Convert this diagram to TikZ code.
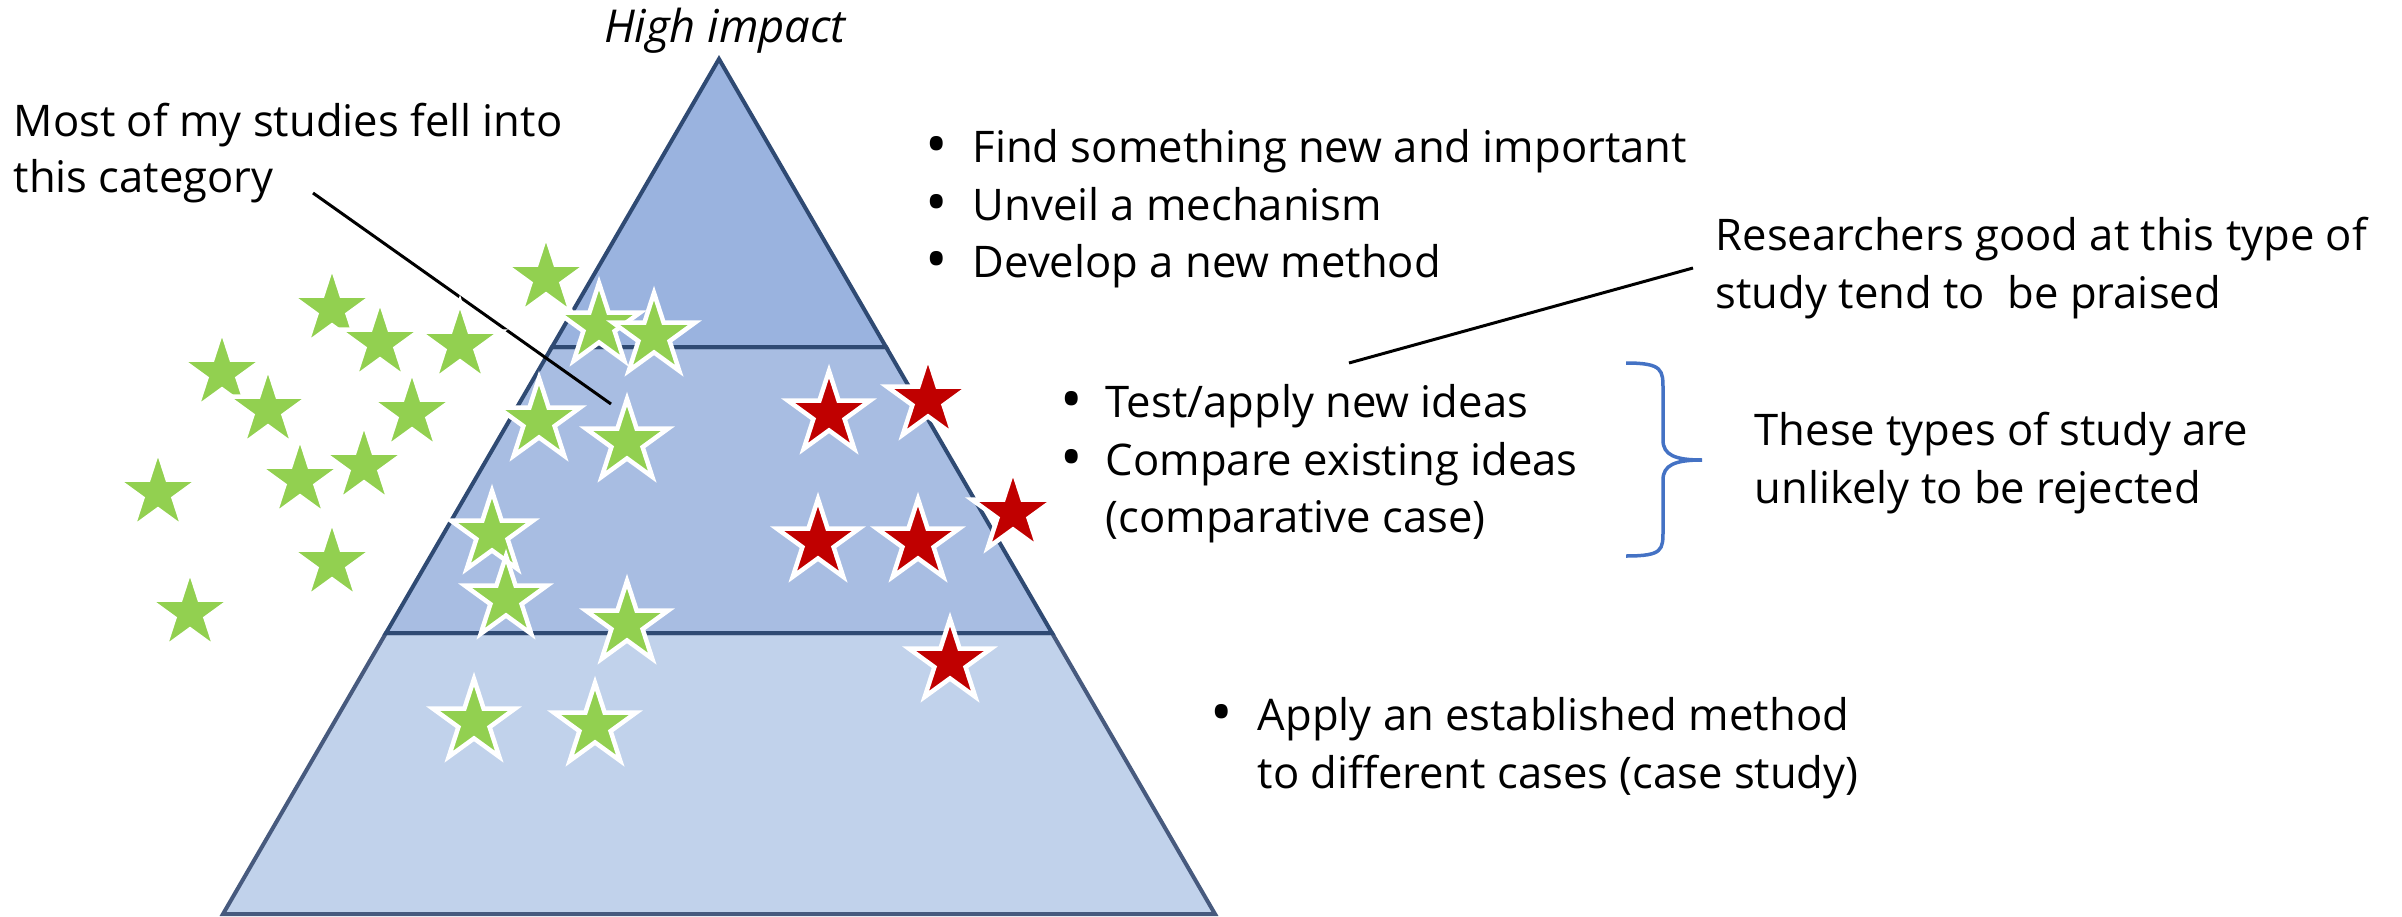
\documentclass[tikz,border=0pt]{standalone}
\usepackage{fontspec}
\setmainfont{Open Sans}
\usetikzlibrary{shapes.geometric}
\definecolor{topband}{HTML}{9AB3DF}
\definecolor{midband}{HTML}{A8BDE2}
\definecolor{lowband}{HTML}{C1D2EB}
\definecolor{bandline}{HTML}{2F4A73}
\definecolor{lowline}{HTML}{475A7E}
\definecolor{stargreen}{HTML}{92D050}
\definecolor{starred}{HTML}{C00000}
\definecolor{bracecol}{HTML}{4472C4}
\tikzset{
	txt/.style={inner sep=0pt, font=\fontsize{12.4}{16}\selectfont, anchor=base west},
	bul/.style={inner sep=0pt, font=\fontsize{17}{20}\selectfont, anchor=base, yshift=-0.3mm},
	gstar/.style={star, star points=5, star point ratio=2.618, minimum size=8.6mm, inner sep=0pt, draw=white, line width=0.45mm, fill=stargreen},
	rstar/.style={gstar, fill=starred},
	band/.style={draw=bandline, line width=0.4mm},
	lead/.style={black, line width=0.3mm}
}

\begin{document}
\begin{tikzpicture}[x=0.1mm, y=-0.1mm]
		%%%%% START %%%%%
		\useasboundingbox (0,0) rectangle (2402,917);
		
		% pyramid
		\coordinate (apex) at (719,59);
		\coordinate (tl) at (552,347);
		\coordinate (tr) at (886,347);
		\coordinate (ml) at (386,633);
		\coordinate (mr) at (1052,633);
		\coordinate (bl) at (223,914);
		\coordinate (br) at (1215,914);
		\draw[band, draw=lowline, fill=lowband] (ml) -- (mr) -- (br) -- (bl) -- cycle;
		\draw[band, fill=midband] (tl) -- (tr) -- (mr) -- (ml) -- cycle;
		\draw[band, fill=topband] (apex) -- (tr) -- (tl) -- cycle;
		
		\node[txt, anchor=base, font=\fontsize{12.9}{16}\selectfont\itshape] (high) at (725,42) {High impact};
		
		% leader lines
		\coordinate (catlead) at (313,193);
		\coordinate (catstar) at (611,404);
		\draw[lead] (catlead) -- (catstar);
		\coordinate (praiselead) at (1693,268);
		\coordinate (applytop) at (1349,363);
		\draw[lead] (applytop) -- (praiselead);
		
		% green stars outside
		\node[gstar] (g1) at (332,309) {};
		\node[gstar] (g2) at (380,343) {};
		\node[gstar] (g3) at (460,345) {};
		\node[gstar] (g4) at (222,373) {};
		\node[gstar] (g5) at (268,410) {};
		\node[gstar] (g6) at (412,413) {};
		\node[gstar] (g7) at (158,493) {};
		\node[gstar] (g8) at (300,480) {};
		\node[gstar] (g9) at (364,466) {};
		\node[gstar] (g10) at (332,563) {};
		\node[gstar] (g11) at (190,613) {};
		\node[gstar] (g12) at (546,278) {};
		
		% green stars inside
		\node[gstar] (g13) at (599,326) {};
		\node[gstar] (g14) at (654,336) {};
		\node[gstar] (g15) at (539,421) {};
		\node[gstar] (g16) at (627,442) {};
		\node[gstar] (g17) at (492,534) {};
		\node[gstar] (g18) at (506,599) {};
		\node[gstar] (g19) at (627,624) {};
		\node[gstar] (g20) at (474,722) {};
		\node[gstar] (g21) at (595,726) {};
		
		% red stars
		\node[rstar] (r1) at (829,414) {};
		\node[rstar] (r2) at (928,400) {};
		\node[rstar] (r3) at (818,542) {};
		\node[rstar] (r4) at (918,542) {};
		\node[rstar] (r5) at (1013,513) {};
		\node[rstar] (r6) at (950,662) {};
		
		% left label
		\node[txt] (most) at (13,136) {Most of my studies fell into};
		\node[txt] (cat) at (13,192) {this category};
		
		% top band
		\node[bul] (b1) at (937,162) {\textbullet};
		\node[txt] (find) at (972,162) {Find something new and important};
		\node[bul] (b2) at (937,220) {\textbullet};
		\node[txt] (unveil) at (972,220) {Unveil a mechanism};
		\node[bul] (b3) at (937,277) {\textbullet};
		\node[txt] (develop) at (972,277) {Develop a new method};
		
		\node[txt] (res) at (1715,250) {Researchers good at this type of};
		\node[txt] (praise) at (1715,308) {study tend to\ \ be praised};
		
		% middle band
		\node[bul] (b4) at (1072,417) {\textbullet};
		\node[txt] (test) at (1105,417) {Test/apply new ideas};
		\node[bul] (b5) at (1072,475) {\textbullet};
		\node[txt] (comp) at (1105,475) {Compare existing ideas};
		\node[txt] (compcase) at (1105,532) {(comparative case)};
		
		\draw[bracecol, line width=0.35mm] (1626,363) .. controls (1663,363) and (1663,370) .. (1663,390) -- (1663,440) .. controls (1663,455) and (1675,460) .. (1702,460) .. controls (1675,460) and (1663,465) .. (1663,480) -- (1663,530) .. controls (1663,550) and (1663,556) .. (1626,556);
		
		\node[txt] (these) at (1754,445) {These types of study are};
		\node[txt] (unlikely) at (1754,503) {unlikely to be rejected};
		
		% bottom band
		\node[bul] (b6) at (1222,730) {\textbullet};
		\node[txt] (applyest) at (1257,730) {Apply an established method};
		\node[txt] (cases) at (1257,788) {to different cases (case study)};
		
		%%%%% END %%%%%
\end{tikzpicture}
\end{document}
